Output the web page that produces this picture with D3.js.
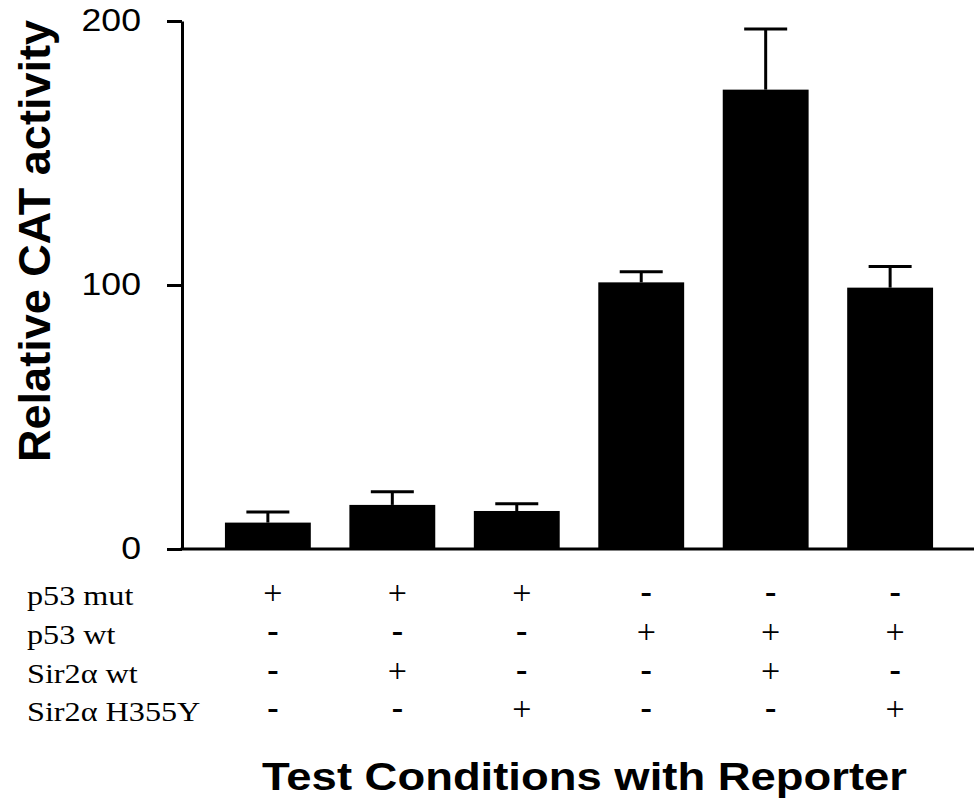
<!DOCTYPE html>
<html>
<head>
<meta charset="utf-8">
<script src="https://cdn.jsdelivr.net/npm/d3@7"></script>
<style>
  body { margin: 0; background: #fff; }
  svg { display: block; }
</style>
</head>
<body>
<div id="visual"></div>
<script>

///// DATA /////
var conditions = ["c1", "c2", "c3", "c4", "c5", "c6"];
var activity = [10, 16.7, 14.4, 101, 174, 99];
var activityErr = [4, 5, 2.7, 4, 23, 8];
var yTicks = [0, 100, 200];

var rowLabels = ["p53 mut", "p53 wt", "Sir2\u03b1 wt", "Sir2\u03b1 H355Y"];
var p53mut = ["+", "+", "+", "-", "-", "-"];
var p53wt = ["-", "-", "-", "+", "+", "+"];
var sir2wt = ["-", "+", "-", "-", "+", "-"];
var sir2mut = ["-", "-", "+", "-", "-", "+"];
var rowMarks = [p53mut, p53wt, sir2wt, sir2mut];

///// DIMENSIONS /////
var W = 974, H = 810;
var axisX = 182, baseY = 549, topY = 21;
var stretch = 1.15; // the scanned figure is a bit wider than tall

var svg = d3.select('#visual').append('svg')
	.attr('width', W)
	.attr('height', H)
	.style('background', '#fff');

var xScale = d3.scaleBand()
	.domain(conditions)
	.range([axisX, 976])
	.paddingInner(0.31)
	.paddingOuter(0.345);

var yScale = d3.scaleLinear()
	.domain([0, 200])
	.range([baseY, topY]);

///// BARS /////
svg.append('g').selectAll('rect')
	.data(conditions).enter().append('rect')
	.attr('x', d => xScale(d))
	.attr('width', xScale.bandwidth())
	.attr('y', (d, i) => yScale(activity[i]))
	.attr('height', (d, i) => baseY - yScale(activity[i]))
	.attr('fill', '#000');

///// ERROR BARS (upper only) /////
var eb = svg.append('g').attr('stroke', '#000').attr('stroke-width', 3);
conditions.forEach(function(d, i) {
	var cx = xScale(d) + xScale.bandwidth() / 2;
	var yTop = yScale(activity[i] + activityErr[i]);
	eb.append('line')
		.attr('x1', cx).attr('x2', cx)
		.attr('y1', yScale(activity[i])).attr('y2', yTop);
	eb.append('line')
		.attr('x1', cx - 21.5).attr('x2', cx + 21.5)
		.attr('y1', yTop).attr('y2', yTop);
});

///// AXES /////
var yAxis = svg.append('g')
	.attr('transform', `translate(${axisX},0)`)
	.call(d3.axisLeft(yScale)
		.tickValues(yTicks)
		.tickSize(15)
		.tickSizeOuter(0)
		.tickPadding(26));
yAxis.select('.domain').attr('stroke-width', 3);
yAxis.selectAll('.tick line').attr('stroke-width', 3);
yAxis.selectAll('.tick text')
	.style('font-family', '"Liberation Sans", Arial, sans-serif')
	.style('font-size', '31px')
	.attr('fill', '#000')
	.attr('transform', function() {
		var x = +d3.select(this).attr('x');
		return `translate(${x},0) scale(${stretch},1) translate(${-x},0)`;
	});

svg.append('line')
	.attr('x1', axisX - 1.5).attr('x2', W)
	.attr('y1', baseY).attr('y2', baseY)
	.attr('stroke', '#000')
	.attr('stroke-width', 3);

svg.append('text')
	.attr('transform', 'translate(50,241) rotate(-90)')
	.attr('text-anchor', 'middle')
	.style('font-family', '"Liberation Sans", Arial, sans-serif')
	.style('font-weight', 'bold')
	.style('font-size', '45px')
	.text('Relative CAT activity');

///// CONDITION TABLE /////
var rowBase = [605, 644, 683, 721];
var table = svg.append('g')
	.style('font-family', '"Liberation Serif", "Times New Roman", serif')
	.attr('fill', '#000');

table.selectAll('.rowlabel')
	.data(rowLabels).enter().append('text')
	.attr('class', 'rowlabel')
	.attr('transform', (d, i) => `translate(27,${rowBase[i]}) scale(${stretch},1)`)
	.style('font-size', '28px')
	.text(d => d);

rowMarks.forEach(function(marks, r) {
	table.selectAll('.mark' + r)
		.data(marks).enter().append('text')
		.attr('class', 'mark' + r)
		.attr('x', (d, i) => xScale(conditions[i]) + xScale.bandwidth() / 2 + 5)
		.attr('y', d => d === '+' ? rowBase[r] - 1 : rowBase[r] - 2)
		.attr('text-anchor', 'middle')
		.style('font-size', '34px')
		.style('font-weight', d => d === '+' ? 'normal' : 'bold')
		.text(d => d);
});

svg.append('text')
	.attr('x', 262)
	.attr('y', 790)
	.attr('textLength', 645)
	.attr('lengthAdjust', 'spacingAndGlyphs')
	.style('font-family', '"Liberation Sans", Arial, sans-serif')
	.style('font-weight', 'bold')
	.style('font-size', '39px')
	.text('Test Conditions with Reporter');

</script>
</body>
</html>
